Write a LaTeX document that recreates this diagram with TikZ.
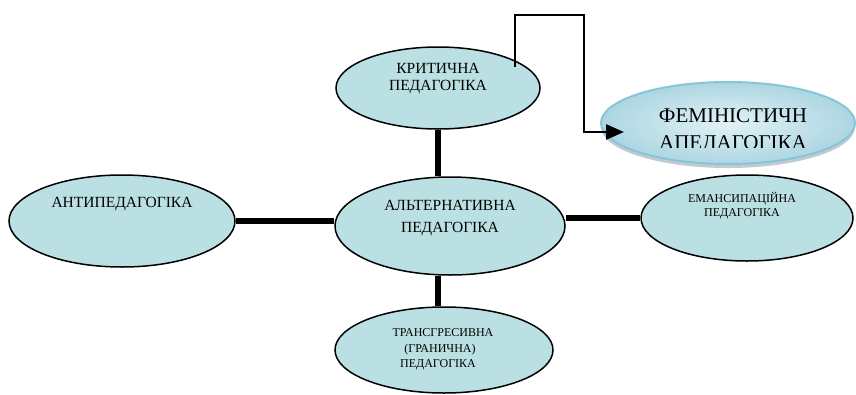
\documentclass[tikz,border=0pt]{standalone}
\usepackage{fontspec}
\setmainfont{Liberation Serif}
\usetikzlibrary{shapes.geometric,arrows.meta,shadows}
\definecolor{ellfill}{RGB}{187,224,227}
\definecolor{femin}{RGB}{226,242,246}
\definecolor{femout}{RGB}{172,214,226}
\definecolor{femline}{RGB}{136,198,214}
\tikzset{
  ell/.style={ellipse, draw=black, line width=1.5pt, fill=ellfill, inner sep=0pt},
  bigtxt/.style={font=\fontsize{15.5}{15.5}\selectfont, inner sep=0pt, anchor=base},
  smalltxt/.style={font=\fontsize{12}{12}\selectfont, inner sep=0pt, anchor=base},
  femtxt/.style={font=\fontsize{21}{21}\selectfont, inner sep=0pt, anchor=base},
  link/.style={line width=6pt},
  flow/.style={line width=2.8pt, -{Triangle[length=18pt,width=15pt]}},
  femell/.style={ellipse, draw=femline, line width=2pt, inner sep=0pt,
    inner color=femin, outer color=femout,
    drop shadow={shadow xshift=0pt, shadow yshift=-4pt, opacity=0.35, fill=black!60!cyan}}
}
\begin{document}
\begin{tikzpicture}[x=1pt,y=-1pt]
\useasboundingbox (0,0) rectangle (856,394);
% ellipses
\node[ell, minimum width=204pt, minimum height=82pt] (crit) at (438,88) {};
\node[ell, minimum width=230pt, minimum height=98pt] (cent) at (450,226) {};
\node[ell, minimum width=226pt, minimum height=92pt] (anti) at (122,221) {};
\node[ell, minimum width=212pt, minimum height=86pt] (eman) at (747,218) {};
\node[ell, minimum width=218pt, minimum height=86pt] (trans) at (444,350) {};
\node[femell, minimum width=254pt, minimum height=82pt] (fem) at (728,123) {};
% texts
\node[bigtxt] (crit1) at (438,73) {КРИТИЧНА};
\node[bigtxt] (crit2) at (438,90) {ПЕДАГОГІКА};
\node[bigtxt] (cent1) at (450,210) {АЛЬТЕРНАТИВНА};
\node[bigtxt] (cent2) at (450,232) {ПЕДАГОГІКА};
\node[bigtxt] (anti1) at (122,207) {АНТИПЕДАГОГІКА};
\node[smalltxt] (eman1) at (742,202) {ЕМАНСИПАЦІЙНА};
\node[smalltxt] (eman2) at (742,216) {ПЕДАГОГІКА};
\node[smalltxt] (trans1) at (443,336) {ТРАНСГРЕСИВНА};
\node[smalltxt] (trans2) at (440,352) {(ГРАНИЧНА)};
\node[smalltxt] (trans3) at (438,367) {ПЕДАГОГІКА};
\node[femtxt] (fem1) at (733,122) {ФЕМІНІСТИЧН};
\begin{scope}
\clip (600,100) rectangle (856,147);
\node[femtxt] (fem2) at (733,149) {АПЕДАГОГІКА};
\end{scope}
% connectors
\draw[link] (crit.south) -- (crit.south |- cent.north);
\draw[link] (crit.south |- cent.south) -- (crit.south |- trans.north);
\draw[link] (anti.east) -- (anti.east -| cent.west);
\draw[link] (eman.west -| cent.east) -- (eman.west);
\coordinate (fstart) at (515,67);
\coordinate (fcorner) at (584,15);
\coordinate (fend) at (624,132);
\draw[flow] (fstart) |- (fcorner) -- (fcorner |- fend) -- (fend);
\end{tikzpicture}
\end{document}
